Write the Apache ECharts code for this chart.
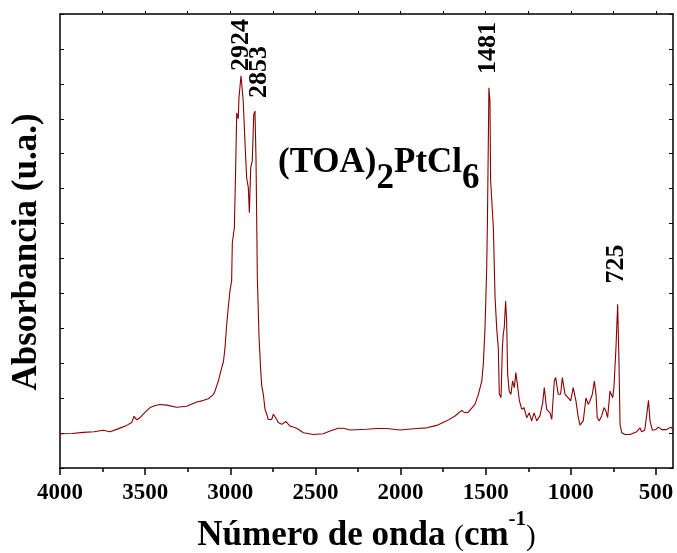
<!DOCTYPE html>
<html><head><meta charset="utf-8">
<script src="https://cdn.jsdelivr.net/npm/echarts@6/dist/echarts.min.js"></script>
<style>html,body{margin:0;padding:0;background:#fff}#c{width:677px;height:553px}</style>
</head><body><div id="c"></div>
<script>
const wavenumbers = [4000,3930,3863,3800,3746,3706,3660,3608,3579,3565,3550,3530,3500,3471,3440,3413,3373,3315,3256,3197,3160,3129,3100,3090,3070,3054,3040,3031,3021,3012,3002,2992,2988,2976,2968,2962,2953,2949,2937,2929,2924,2914,2904,2894,2888,2880,2871,2862,2855,2849,2841,2831,2820,2815,2806,2796,2786,2777,2767,2757,2747,2733,2718,2698,2673,2649,2610,2571,2512,2454,2414,2366,2336,2297,2199,2140,2081,2003,1905,1846,1788,1729,1680,1641,1622,1602,1592,1563,1543,1523,1514,1504,1494,1490,1481,1475,1471,1461,1455,1445,1435,1426,1420,1410,1402,1397,1391,1383,1377,1371,1362,1352,1342,1332,1323,1314,1302,1288,1275,1259,1244,1230,1216,1200,1181,1166,1156,1146,1142,1132,1122,1112,1103,1097,1089,1079,1074,1060,1050,1040,1034,1015,1001,986,970,956,946,927,911,898,888,874,862,852,845,833,819,805,794,784,770,760,754,747,735,725,717,711,701,682,652,613,594,584,566,554,544,535,521,501,486,466,437,413,400];
const absorbance = [0.98,0.99,1.02,1.04,1.08,1.04,1.12,1.22,1.30,1.48,1.38,1.44,1.60,1.73,1.79,1.82,1.80,1.74,1.77,1.89,1.93,1.98,2.10,2.20,2.49,2.80,3.05,3.44,4.11,4.59,5.07,5.36,6.45,6.88,8.70,10.17,10.00,10.60,11.23,11.23,10.51,9.36,8.31,8.03,7.31,8.60,8.79,10.13,10.22,8.89,5.45,3.73,2.68,2.35,2.11,1.68,1.54,1.39,1.39,1.39,1.54,1.44,1.30,1.25,1.33,1.20,1.14,1.01,0.96,0.98,1.06,1.14,1.14,1.09,1.11,1.13,1.13,1.09,1.13,1.15,1.22,1.35,1.49,1.65,1.58,1.60,1.63,1.82,2.11,2.49,2.97,4.02,5.74,6.98,10.89,10.51,8.22,8.22,6.88,4.88,3.97,3.44,2.11,2.01,3.44,3.83,4.02,4.78,4.21,2.68,2.20,2.11,2.49,2.30,2.73,2.40,1.92,1.68,1.73,1.44,1.58,1.35,1.58,1.35,1.50,1.85,2.30,2.28,1.68,1.73,1.58,1.39,1.39,2.49,2.59,2.59,2.11,2.11,2.59,2.54,2.11,2.01,1.92,2.30,1.92,1.44,1.23,1.35,2.01,1.82,1.92,2.11,2.49,2.11,1.44,1.35,1.49,1.73,1.63,1.44,2.20,2.25,2.01,2.30,3.44,4.69,2.97,1.25,1.01,0.96,0.96,1.04,1.15,1.04,1.08,1.54,1.94,1.35,1.08,1.10,1.17,1.10,1.10,1.17,1.10];
const majorTicks = [4000,3500,3000,2500,2000,1500,1000,500];
const minorTicks = [3750,3250,2750,2250,1750,1250,750];
const topTicks = [3750,3500,3250,3000,2750,2500,2250,2000,1750,1500,1250,1000,750,500];
const peakValues = [2924,2853,1481,725];
const peakLabels = ['2924','2853','1481','725'];

const FONT = '"Liberation Serif", "Times New Roman", serif';
const chart = echarts.init(document.getElementById('c'), null, {renderer:'canvas'});
const axisLine = {show:true, lineStyle:{color:'#000', width:1.5}};
const baseX = {type:'value', min:400, max:4000, inverse:true, splitLine:{show:false}};
chart.setOption({
  animation:false,
  backgroundColor:'#fff',
  grid:{left:60, right:4, top:14, bottom:85},
  xAxis:[
    Object.assign({}, baseX, {position:'bottom', axisLine:axisLine,
      axisTick:{show:true, customValues:majorTicks, length:7, lineStyle:{color:'#000', width:1.5}},
      axisLabel:{show:true, customValues:majorTicks, margin:14, color:'#000', fontFamily:FONT, fontWeight:'bold', fontSize:23,
        formatter:function(v){return String(v);}}}),
    Object.assign({}, baseX, {position:'bottom', axisLine:{show:false},
      axisTick:{show:true, customValues:minorTicks, length:4, lineStyle:{color:'#000', width:1.5}},
      axisLabel:{show:false}}),
    Object.assign({}, baseX, {position:'top', axisLine:axisLine,
      axisTick:{show:true, customValues:topTicks, length:3, lineStyle:{color:'#000', width:1}},
      axisLabel:{show:false}})
  ],
  yAxis:[
    {type:'value', min:0, max:13, interval:1, position:'left', axisLine:axisLine,
      axisTick:{show:true, inside:true, length:4, lineStyle:{color:'#000', width:1}}, axisLabel:{show:false}, splitLine:{show:false}},
    {type:'value', min:0, max:13, interval:1, position:'right', axisLine:axisLine,
      axisTick:{show:true, inside:true, length:4, lineStyle:{color:'#000', width:1}}, axisLabel:{show:false}, splitLine:{show:false}}
  ],
  series:[{
    type:'line', xAxisIndex:0, yAxisIndex:0, showSymbol:false, symbol:'none',
    data: wavenumbers.map((w,i)=>[w, absorbance[i]]),
    lineStyle:{color:'#8b0000', width:1.1}
  }]
});

const ctx = document.createElement('canvas').getContext('2d');
function tw(text, size, weight){ ctx.font = (weight||'bold')+' '+size+'px '+FONT; return ctx.measureText(text).width; }
const elems = [];
const peakLabelY = [45, 72, 48, 264];
const peakDx = [-2, 4, -1, -1];
peakValues.forEach((v,i)=>{
  const px = chart.convertToPixel({xAxisIndex:0}, v);
  elems.push({type:'text', x:px+peakDx[i], y:peakLabelY[i], rotation:Math.PI/2,
    style:{text:peakLabels[i], font:'bold 26px '+FONT, fill:'#000', align:'center', verticalAlign:'middle'}});
});
// compound label (TOA)2PtCl6
(function(){
  const fs = 35;
  const parts = [['(TOA)',0],['2',16],['PtCl',0],['6',16]];
  let x = 278; const mid = 163;
  parts.forEach(p=>{
    elems.push({type:'text', x:x, y:mid+p[1], style:{text:p[0], font:'bold '+fs+'px '+FONT, fill:'#000', align:'left', verticalAlign:'middle'}});
    x += tw(p[0], fs, 'bold');
  });
})();
// x axis title
(function(){
  const parts = [['Número de onda ','bold',35,0],['(','normal',29,1],['cm','bold',35,0],['-1','bold',21,-16],[')','normal',29,1]];
  const total = parts.reduce((s,p)=>s+tw(p[0],p[2],p[1]),0);
  let x = 366.5 - total/2; const mid = 536;
  parts.forEach(p=>{
    elems.push({type:'text', x:x, y:mid+p[3], style:{text:p[0], font:p[1]+' '+p[2]+'px '+FONT, fill:'#000', align:'left', verticalAlign:'middle'}});
    x += tw(p[0],p[2],p[1]);
  });
})();
elems.push({type:'text', x:27, y:252, rotation:Math.PI/2,
  style:{text:'Absorbancia (u.a.)', font:'bold 35px '+FONT, fill:'#000', align:'center', verticalAlign:'middle'}});
chart.setOption({graphic:{elements:elems}});
</script></body></html>
